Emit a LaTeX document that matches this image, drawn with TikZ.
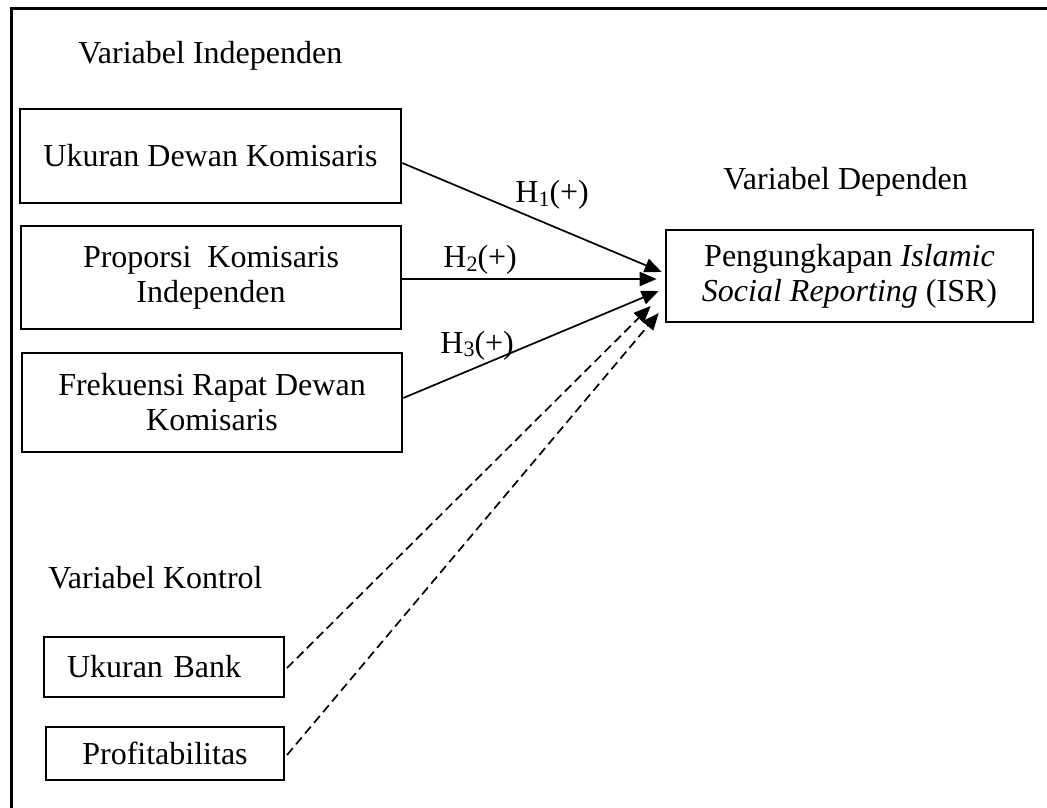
\documentclass[tikz,border=0pt]{standalone}
\usepackage{fontspec}
\setmainfont{Liberation Serif}
\usetikzlibrary{arrows.meta,calc}
\newcommand{\hsub}[1]{\raisebox{-0.25ex}{\fontsize{11}{11}\selectfont #1}}
\begin{document}
\begin{tikzpicture}[x=0.5pt,y=-0.5pt,
  font=\fontsize{16}{17.5}\selectfont,
  box/.style={draw, line width=1.3pt, inner sep=0pt, align=center},
  cbox/.style={draw, line width=1pt, inner sep=0pt},
  conn/.style={line width=0.85pt, -{Triangle[length=8.5pt,width=7pt]}},
  dconn/.style={conn, dash pattern=on 4.5pt off 2.5pt},
  lbl/.style={anchor=base west, inner sep=0pt}]
\useasboundingbox (0,0) rectangle (1047,807);
\clip (0,0) rectangle (1047,807);
\draw[line width=1.5pt] (11,8.5) rectangle (1070,830);

\node[lbl] (tind) at (78,64) {Variabel Independen};
\node[lbl] (tdep) at (723,190) {Variabel Dependen};
\node[lbl] (tkon) at (48,588) {Variabel Kontrol};

\node[box, minimum width=190.5pt, minimum height=47pt] (b1) at (210.5,156) {Ukuran Dewan Komisaris};
\node[box, minimum width=190pt, minimum height=51.5pt] (b2) at (211,277.5) {Proporsi\ \ Komisaris\\Independen};
\node[box, minimum width=190pt, minimum height=49.5pt] (b3) at (212,402.5) {Frekuensi Rapat Dewan\\Komisaris};
\node[box, minimum width=183.5pt, minimum height=46pt] (isr) at (849.5,276) {Pengungkapan \textit{Islamic}\\\textit{Social Reporting} (ISR)};

\node[cbox, minimum width=120pt, minimum height=30pt, inner xsep=11.5pt, text width=97pt, align=left] (bank) at (164,667) {Ukuran Bank};
\node[cbox, minimum width=119pt, minimum height=26.5pt, align=center] (prof) at (165,753.5) {Profitabilitas};

\draw[conn] ($(b1.east)+(0,7)$) -- ($(isr.west)+(-3,-4)$);
\draw[conn] ($(b2.east)+(0,1.5)$) -- ($(isr.west)+(-8,3)$);
\draw[conn] ($(b3.east)+(0,-4.5)$) -- ($(isr.west)+(-6,15)$);
\draw[dconn] ($(bank.east)+(2,1)$) -- ($(isr.west)+(-14,30)$);
\draw[dconn] ($(prof.east)+(2,1.5)$) -- ($(isr.west)+(-6,37)$);

\node[lbl] (h1) at (515,203) {H\hsub{1}(+)};
\node[lbl] (h2) at (443,268) {H\hsub{2}(+)};
\node[lbl] (h3) at (440,353) {H\hsub{3}(+)};
\end{tikzpicture}
\end{document}
